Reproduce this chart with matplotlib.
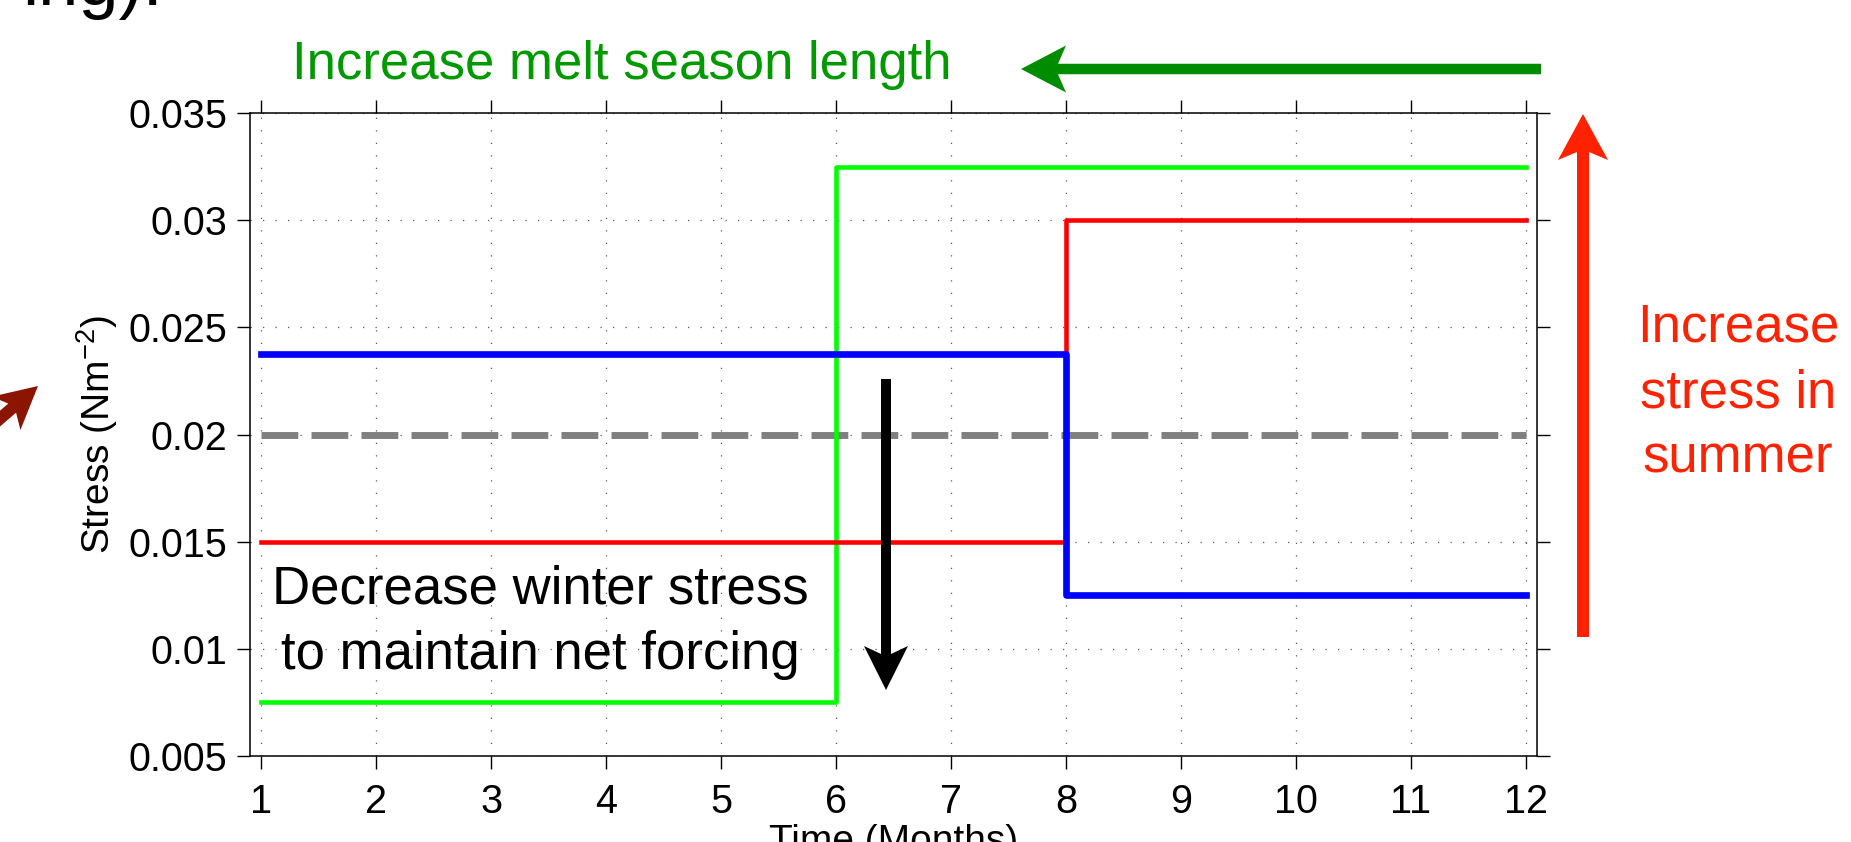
import matplotlib
matplotlib.use("Agg")
import matplotlib.pyplot as plt
from matplotlib.patches import Polygon
import numpy as np

plt.rcParams['font.family'] = ['Liberation Sans', 'DejaVu Sans']
plt.rcParams['mathtext.fontset'] = 'custom'
plt.rcParams['mathtext.rm'] = 'Liberation Sans'
plt.rcParams['mathtext.it'] = 'Liberation Sans'

# step profiles of surface stress over the year (month edges, stress)
months = np.arange(1, 13)
green_x = [1, 6, 6, 12]
green_y = [0.0075, 0.0075, 0.0325, 0.0325]
red_x = [1, 8, 8, 12]
red_y = [0.015, 0.015, 0.03, 0.03]
blue_x = [1, 8, 8, 12]
blue_y = [0.02375, 0.02375, 0.0125, 0.0125]
base_x = [1, 12]
base_y = [0.02, 0.02]
yticks = [0.005, 0.01, 0.015, 0.02, 0.025, 0.03, 0.035]
ytick_labels = ['0.005', '0.01', '0.015', '0.02', '0.025', '0.03', '0.035']

W, H = 1851, 842
fig = plt.figure(figsize=(W / 100, H / 100), dpi=100)
ax = fig.add_axes([250 / W, 1 - 756 / H, (1537 - 250) / W, (756 - 113) / H])

ax.plot(base_x, base_y, color='0.5', lw=5, linestyle=(0, (5.3, 1.9)), zorder=3)
ax.plot(green_x, green_y, color='#00ff00', lw=3.3, zorder=4)
ax.plot(red_x, red_y, color='#ff0000', lw=3.3, zorder=4)
ax.plot(blue_x, blue_y, color='#0000ff', lw=4.8, zorder=5, solid_joinstyle='round')

ax.set_xlim(0.9, 12.1)
ax.set_ylim(0.005, 0.035)
ax.set_xticks(months)
ax.set_yticks(yticks)
ax.set_yticklabels(ytick_labels)
ax.grid(True, color='0.35', lw=0.9, linestyle=(0, (1, 9)))
ax.tick_params(direction='out', length=9.5, width=1, labelsize=28.5,
               top=True, right=True, pad=7)
ax.tick_params(axis='x', pad=10)
for s in ax.spines.values():
    s.set_linewidth(1.1)
ax.set_ylabel('Stress (Nm$^{-2}$)', fontsize=28, labelpad=6)
ax.set_xlabel('Time (Months)', fontsize=28, labelpad=2)


def px(x, y):
    return (x / W, 1 - y / H)


def arrow(x0, y0, x1, y1, color, shaft, head_w, head_len, notch=6):
    # arrow drawn in pixel units of the full figure
    d = np.array([x1 - x0, y1 - y0], float)
    L = np.hypot(*d)
    u = d / L
    n = np.array([-u[1], u[0]])
    p0 = np.array([x0, y0], float)
    tip = np.array([x1, y1], float)
    back = tip - u * head_len
    join = back + u * notch
    pts = [p0 + n * shaft / 2, join + n * shaft / 2, back + n * head_w / 2, tip,
           back - n * head_w / 2, join - n * shaft / 2, p0 - n * shaft / 2]
    pts = [px(*p) for p in pts]
    fig.patches.append(Polygon(pts, closed=True, transform=fig.transFigure,
                               facecolor=color, edgecolor='none', zorder=10))


arrow(1541, 69, 1021, 69, '#008c00', 10.5, 47, 45, 8)
arrow(1583, 637, 1583, 114, '#ff2200', 12, 50, 46, 8)
arrow(886, 379, 886, 690, 'black', 10, 44, 44, 8)
arrow(-60, 470, 38, 386, '#8b1500', 12, 44, 42, 8)

fig.text(*px(622, 65), 'Increase melt season length', color='#009900',
         fontsize=38, ha='center', va='center')
fig.text(*px(1738, 393), 'Increase\nstress in\nsummer', color='#ff2200',
         fontsize=38, ha='center', va='center', linespacing=1.4)
fig.text(*px(540, 622), 'Decrease winter stress\nto maintain net forcing',
         color='black', fontsize=38, ha='center', va='center', linespacing=1.4)
fig.text(*px(163, 5), 'ing).', color='black', fontsize=52, ha='right',
         va='baseline')

fig.savefig('out.png', dpi=100)
